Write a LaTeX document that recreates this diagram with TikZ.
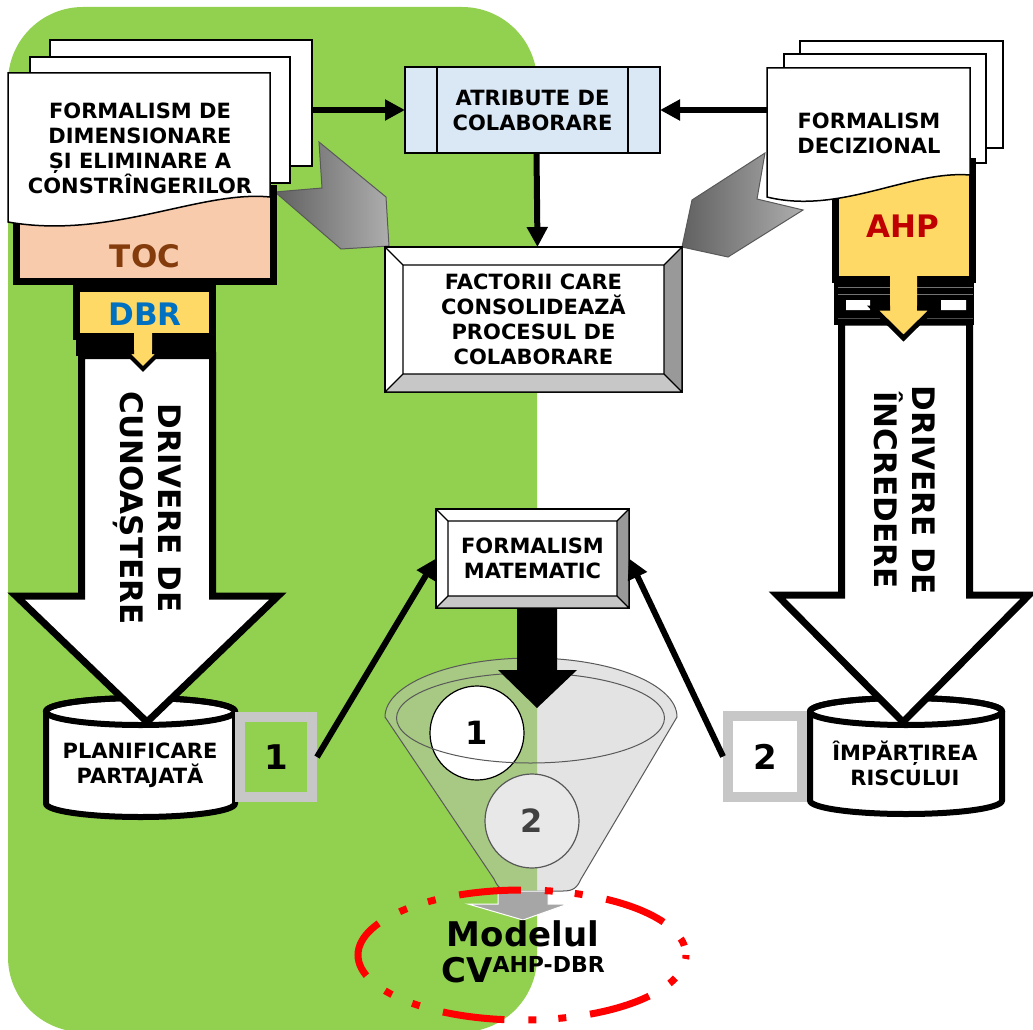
\documentclass[tikz,border=0pt]{standalone}
\usepackage{fontspec}
\setmainfont{DejaVu Sans}
\usetikzlibrary{arrows.meta,calc}

\definecolor{leafgreen}{HTML}{92D050}
\definecolor{peach}{HTML}{F8CBAD}
\definecolor{tocbrown}{HTML}{843C0C}
\definecolor{honey}{HTML}{FFD966}
\definecolor{dbrblue}{HTML}{0070C0}
\definecolor{ahpred}{HTML}{C00000}
\definecolor{paleblue}{HTML}{DAE8F5}
\definecolor{darkedge}{HTML}{595959}

\tikzset{
	page/.style = {draw=black, line width=1.5, fill=white, outer sep=0pt, inner sep=0pt},
	lbl/.style = {font=\bfseries\fontsize{21}{25}\selectfont, align=center, inner sep=0pt},
	tag/.style = {font=\bfseries\fontsize{31}{36}\selectfont, inner sep=0pt},
	num/.style = {font=\bfseries\fontsize{34}{40}\selectfont, inner sep=0pt},
	driver/.style = {font=\bfseries\fontsize{31}{38}\selectfont, align=center, rotate=-90, inner sep=0pt},
	blockarrow/.style = {draw=black, line width=7, fill=white, line join=miter},
	link/.style = {line width=6, -{Triangle[length=20pt, width=20pt]}},
	numframe/.style = {draw=black!22, line width=10, outer sep=0pt, num},
	bevelbox/.style = {draw=black, line width=1.2, fill=white, outer sep=0pt, lbl},
	chevron/.style = {draw=darkedge, line width=1, left color=black!62, right color=black!32},
	tank/.style = {draw=black, line width=6, fill=white},
}

% faces of a raised box around node #1, depth #2
\newcommand{\bevelfaces}[2]{%
	\fill[black!40] (#1.north east) -- (#1.south east) -- ([shift={(-#2,-#2)}]#1.south east) -- ([shift={(-#2,#2)}]#1.north east) -- cycle;
	\fill[black!22] (#1.south east) -- (#1.south west) -- ([shift={(#2,-#2)}]#1.south west) -- ([shift={(-#2,-#2)}]#1.south east) -- cycle;
	\draw[line width=1.2] (#1.north west) rectangle (#1.south east)
		([shift={(#2,#2)}]#1.north west) rectangle ([shift={(-#2,-#2)}]#1.south east)
		(#1.north west) -- ++(#2,#2) (#1.north east) -- ++(-#2,#2)
		(#1.south west) -- ++(#2,-#2) (#1.south east) -- ++(-#2,-#2);
}

\begin{document}
\begin{tikzpicture}[x=1pt, y=-1pt]
	\useasboundingbox (0,0) rectangle (1033,1030);
	\fill[white] (0,0) rectangle (1033,1030);
	\fill[leafgreen, rounded corners=75] (8,7) rectangle (537,1032);

	% grey pointers into the central box
	\path[chevron] (319,142) -- (386,197) -- (389,246) -- (341,249) -- (275,192) -- (322,188) -- cycle;
	\path[chevron] (765,153) -- (692,200) -- (682,247) -- (728,257) -- (803,210) -- (757,199) -- cycle;

	% left stack
	\node[page, minimum width=262, minimum height=126] (backL) at (181,103) {};
	\node[page, minimum width=260, minimum height=126] (midL) at (160,120) {};
	\filldraw[fill=peach, draw=black, line width=7] (16.5,188.5) rectangle (273.5,281.5);
	\draw[page] (8,73) -- (270,73) -- (270,197) .. controls (200,190) and (110,240) .. (8,222) -- cycle;
	\node[lbl] (dimL) at (140,148) {FORMALISM DE\\DIMENSIONARE\\ȘI ELIMINARE A\\CONSTRÎNGERILOR};
	\node[tag, text=tocbrown] (toc) at (145,256) {TOC};
	\filldraw[fill=honey, draw=black, line width=7] (76.5,288.5) rectangle (212.5,336.5);
	\fill (76,336) rectangle (216,356);
	\node[tag, text=dbrblue] (dbr) at (145,314) {DBR};

	% right stack
	\node[page, minimum width=203, minimum height=107] (backR) at (901.5,94.5) {};
	\node[page, minimum width=202, minimum height=109] (midR) at (885,108.5) {};
	\filldraw[fill=honey, draw=black, line width=7] (835.5,161.5) rectangle (972.5,279.5);
	\draw[page] (767,68) -- (970,68) -- (970,175) .. controls (910,170) and (840,215) .. (767,197) -- cycle;
	\coordinate (edgeR) at (767,110);
	\node[lbl] (decis) at (869,133) {FORMALISM\\DECIZIONAL};
	\node[tag, text=ahpred] (ahp) at (903,226) {AHP};
	\fill (834,280) rectangle (974,325);
	\draw[black!55, line width=1] (838,287) -- (973,287) (838,294) -- (973,294) (838,318) -- (973,318);
	\fill[white] (846,300) rectangle (870,310) (941,300) rectangle (966,310);

	% drums
	\draw[tank] (46,711.5) -- (46,803.5) arc[start angle=180, end angle=0, x radius=94.5, y radius=13.5]
		-- (235,711.5) arc[start angle=0, end angle=-180, x radius=94.5, y radius=13.5] -- cycle;
	\draw[line width=6] (140.5,711.5) ellipse[x radius=94.5, y radius=13.5];
	\node[lbl] (plan) at (140,765) {PLANIFICARE\\PARTAJATĂ};
	\draw[tank] (810,711.5) -- (810,800.5) arc[start angle=180, end angle=0, x radius=96, y radius=13.5]
		-- (1002,711.5) arc[start angle=0, end angle=-180, x radius=96, y radius=13.5] -- cycle;
	\draw[line width=6] (906,711.5) ellipse[x radius=96, y radius=13.5];
	\node[lbl] (risk) at (905,763) {ÎMPĂRȚIREA\\RISCULUI};

	% big arrows
	\draw[blockarrow] (81.5,355.5) -- (212.5,355.5) -- (212.5,596) -- (278,596) -- (147,722) -- (16,596) -- (81.5,596) -- cycle;
	\draw[blockarrow] (841.5,322) -- (969.5,322) -- (969.5,595) -- (1029,595) -- (903,722) -- (777,595) -- (841.5,595) -- cycle;
	\node[driver] (drvL) at (147,508) {DRIVERE DE\\CUNOAȘTERE};
	\node[driver] (drvR) at (905,490) {DRIVERE DE\\ÎNCREDERE};

	\fill[honey] (134,333) -- (152,333) -- (152,352) -- (160,352) -- (143,369) -- (126,352) -- (134,352) -- cycle;
	\draw[line width=4, line join=miter] (134,352) -- (126,352) -- (143,369) -- (160,352) -- (152,352);
	\fill[honey] (890,276) -- (917,276) -- (917,308) -- (934,308) -- (903.5,338) -- (873,308) -- (890,308) -- cycle;
	\draw[line width=5, line join=miter] (890,308) -- (873,308) -- (903.5,338) -- (934,308) -- (917,308);

	% central boxes
	\node[draw=black, line width=1.5, fill=paleblue, lbl, minimum width=255, minimum height=86, outer sep=0pt] (attr) at (532.5,110) {ATRIBUTE DE\\COLABORARE};
	\draw[line width=1.5] ([xshift=32]attr.north west) -- ([xshift=32]attr.south west)
		([xshift=-32]attr.north east) -- ([xshift=-32]attr.south east);
	\node[bevelbox, minimum width=297, minimum height=145] (factors) at (533.5,319.5) {FACTORII CARE\\CONSOLIDEAZĂ\\PROCESUL DE\\COLABORARE};
	\bevelfaces{factors}{18}
	\node[bevelbox, minimum width=193, minimum height=99] (mat) at (532.5,558.5) {FORMALISM\\MATEMATIC};
	\bevelfaces{mat}{12}

	\draw[link] (backL.east |- attr.west) -- (attr.west);
	\draw[link] (edgeR) -- (attr.east);
	\draw[link] ([xshift=4]attr.south) -- ([xshift=4]factors.north);

	\node[numframe, minimum width=72, minimum height=80] (one) at (276,757) {1};
	\node[numframe, fill=white, minimum width=74, minimum height=81] (two) at (765,756.5) {2};
	\draw[link] ([xshift=5]one.east) -- (mat.west);
	\draw[link] ([xshift=-5]two.west) -- (mat.east);

	% funnel
	\path[fill=black!24, fill opacity=.45, draw=darkedge, line width=1] (385,717) -- (494,879) .. controls (498,888) and (502,891) .. (512,891)
		-- (563,891) .. controls (573,891) and (577,888) .. (581,879) -- (677,717)
		arc[start angle=0, end angle=-180, x radius=146, y radius=59] -- cycle;
	\node[circle, draw=black, line width=1.2, fill=white, minimum size=94, inner sep=0pt, font=\bfseries\fontsize{32}{36}\selectfont] (c1) at (477,733) {1};
	\node[circle, draw=darkedge, line width=1.2, fill=black!9, text=black!75, minimum size=94, inner sep=0pt, font=\bfseries\fontsize{32}{36}\selectfont] (c2) at (532,821) {2};
	\draw[darkedge, line width=1] (530.5,718) ellipse[x radius=134, y radius=45];
	\fill (517,608) -- (557,608) -- (557,670) -- (577,670) -- (537,708) -- (498,670) -- (517,670) -- cycle;
	\filldraw[fill=black!35, draw=white, line width=1] (498,891) -- (548,891) -- (548,904) -- (568,904) -- (523,920) -- (468,904) -- (498,904) -- cycle;

	\draw[red, line width=7, dash pattern=on 8pt off 22pt on 8pt off 24pt on 62pt off 24pt, dash phase=4pt] (522,955) ellipse[x radius=164, y radius=65];
	\node[inner sep=0pt, align=center, font=\bfseries\fontsize{34}{36}\selectfont] (model) at (523,952) {Modelul\\CV\raisebox{10pt}{\fontsize{22}{22}\selectfont AHP-DBR}};
\end{tikzpicture}
\end{document}
